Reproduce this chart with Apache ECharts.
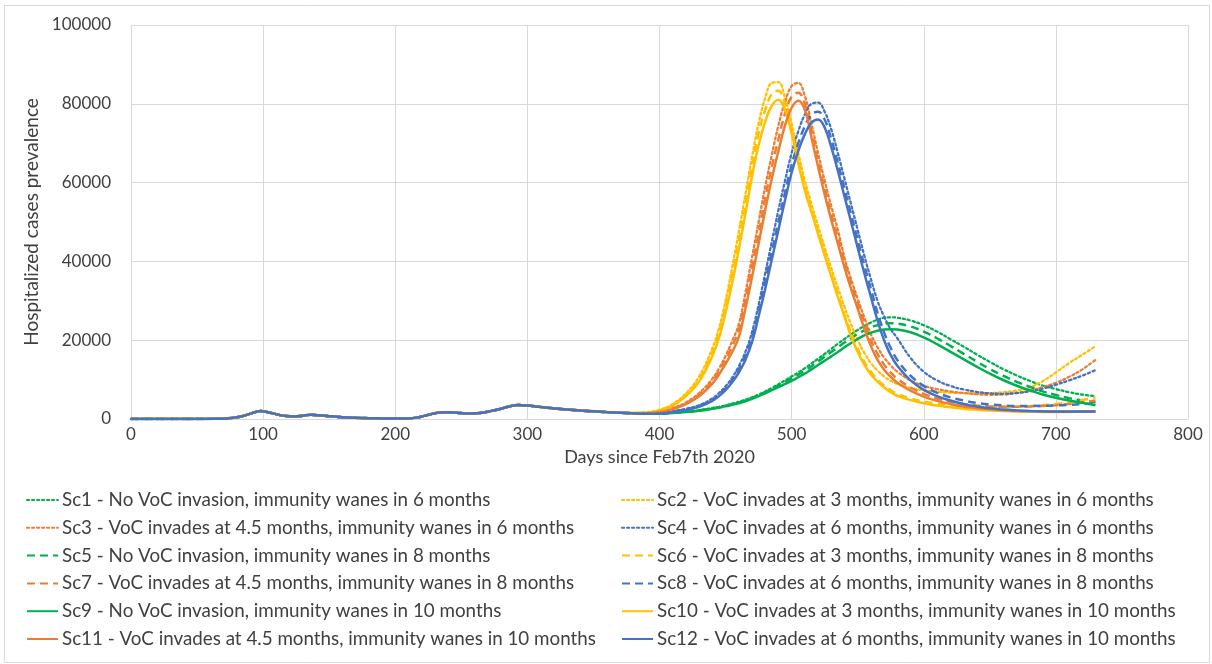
<!DOCTYPE html>
<html>
<head>
<meta charset="utf-8">
<script src="https://cdn.jsdelivr.net/npm/echarts@6/dist/echarts.min.js"></script>
<style>
  html, body { margin: 0; padding: 0; background: #fff; }
  #chart { width: 1212px; height: 664px; }
</style>
</head>
<body>
<div id="chart"></div>
<script>
// Shared early epidemic history (days 0-370), identical for every scenario
const commonDays = [0, 20, 40, 55, 65, 72, 78, 84, 90, 95, 98, 102, 107, 112, 118, 124, 130, 136, 142, 150,
  160, 170, 180, 190, 200, 210, 216, 222, 228, 234, 240, 248, 256, 264, 272, 280, 287, 293, 300, 310,
  320, 330, 340, 350, 360, 370];
const commonValues = [0, 0, 0, 20, 60, 150, 350, 700, 1300, 1850, 2000, 1850, 1450, 1050, 750, 650, 850, 1050, 950, 700,
  450, 300, 200, 150, 120, 150, 350, 800, 1300, 1650, 1700, 1550, 1400, 1550, 2000, 2600, 3250, 3550, 3400, 3050,
  2700, 2400, 2150, 1950, 1750, 1600];

// Scenario projections from day 380 on
const scenarioDays = [380, 390, 400, 410, 420, 430, 440, 445, 450, 455, 460, 465, 470, 475, 480, 485, 490, 495, 500, 505,
  510, 515, 520, 525, 530, 535, 540, 545, 550, 555, 560, 565, 570, 575, 580, 590, 600, 610, 620, 630,
  640, 650, 660, 670, 680, 690, 700, 710, 720, 730];

const sc1 = [1450, 1400, 1450, 1600, 1850, 2250, 2800, 3100, 3450, 3900, 4350, 4900, 5500, 6200, 7000, 7900, 8800, 9800, 10800, 11800,
  12900, 14100, 15300, 16500, 17800, 19100, 20300, 21500, 22600, 23600, 24500, 25200, 25700, 25800, 25700, 25000, 23800, 22200, 20300, 18400,
  16400, 14500, 12700, 11100, 9700, 8500, 7600, 6800, 6200, 5800];
const sc2 = [1550, 1700, 2300, 3800, 6500, 10800, 18000, 23000, 30000, 38500, 47500, 57000, 66500, 75000, 81500, 85300, 85500, 81500, 75000, 67500,
  60500, 54500, 49000, 43500, 38300, 33300, 28500, 24000, 20000, 16800, 14200, 12300, 10800, 9700, 8900, 7900, 7300, 6900, 6700, 6550,
  6500, 6550, 6800, 7200, 8000, 9600, 11800, 14200, 16300, 18500];
const sc3 = [1500, 1550, 1950, 2800, 4200, 6600, 10200, 12800, 16000, 19800, 24000, 32000, 41000, 50000, 59000, 67000, 74500, 80500, 84500, 85300,
  82000, 75000, 67500, 60500, 54000, 48000, 41000, 35500, 30500, 25800, 21500, 18200, 15600, 13600, 12000, 9800, 8400, 7600, 7000, 6600,
  6300, 6150, 6200, 6600, 7200, 8100, 9200, 10700, 12600, 15000];
const sc4 = [1500, 1450, 1500, 1950, 2600, 3500, 5200, 6600, 8300, 10500, 13400, 17000, 22000, 29000, 37000, 45000, 53000, 60500, 67500, 73000,
  77300, 80000, 80300, 78000, 73500, 67500, 61000, 54500, 48000, 41500, 35500, 30000, 26000, 22800, 20500, 15500, 12000, 9800, 8400, 7500,
  6900, 6500, 6400, 6600, 7000, 7700, 8700, 9800, 11000, 12400];
const sc5 = [1450, 1400, 1400, 1550, 1800, 2200, 2700, 3000, 3350, 3750, 4200, 4700, 5300, 6000, 6800, 7600, 8500, 9400, 10300, 11300,
  12300, 13400, 14600, 15800, 17000, 18200, 19400, 20500, 21600, 22500, 23300, 23800, 24200, 24300, 24200, 23500, 22200, 20500, 18600, 16600,
  14600, 12700, 11000, 9500, 8200, 7000, 6100, 5300, 4700, 4200];
const sc6 = [1500, 1650, 2200, 3600, 6100, 10000, 17000, 21800, 28500, 36500, 45000, 54500, 64000, 72500, 78500, 82500, 83300, 80000, 73500, 66000,
  59000, 53000, 47500, 42000, 36700, 31500, 26500, 21800, 17800, 14500, 12000, 10000, 8500, 7300, 6400, 5200, 4400, 3900, 3500, 3250,
  3100, 3050, 3050, 3100, 3250, 3500, 3800, 4200, 4800, 5500];
const sc7 = [1450, 1500, 1850, 2650, 4000, 6200, 9600, 12000, 15000, 18500, 22500, 30000, 38500, 47000, 56000, 64000, 71000, 77500, 81800, 82800,
  80000, 73000, 65500, 58500, 52000, 46000, 40000, 34500, 29500, 24500, 20000, 16500, 13800, 11800, 10200, 8000, 6400, 5200, 4400, 3800,
  3400, 3200, 3100, 3100, 3150, 3300, 3500, 3800, 4200, 4700];
const sc8 = [1450, 1400, 1450, 1850, 2450, 3300, 4900, 6200, 7800, 9900, 12600, 16000, 20800, 27500, 35000, 42500, 50000, 57500, 64500, 70000,
  74300, 77300, 78000, 76000, 71000, 65000, 58500, 52000, 45500, 39000, 33000, 27000, 22000, 18000, 15000, 11000, 8400, 6700, 5500, 4700,
  4100, 3700, 3450, 3300, 3300, 3350, 3450, 3600, 3800, 4000];
const sc9 = [1450, 1350, 1350, 1500, 1750, 2100, 2600, 2900, 3200, 3600, 4000, 4500, 5100, 5800, 6500, 7300, 8100, 8900, 9700, 10600,
  11500, 12600, 13700, 14800, 15900, 17000, 18200, 19300, 20300, 21200, 21900, 22400, 22700, 22800, 22700, 22000, 20700, 19000, 17100, 15200,
  13300, 11500, 9900, 8500, 7300, 6200, 5400, 4700, 4100, 3500];
const sc10 = [1500, 1600, 2100, 3400, 5800, 9500, 16000, 20500, 27000, 34500, 43000, 52000, 61500, 69500, 75500, 79500, 81000, 78500, 72500, 65000,
  58000, 52500, 47000, 41500, 36200, 31000, 26000, 21000, 17000, 13800, 11300, 9500, 8000, 6800, 5900, 4800, 4000, 3400, 3000, 2600,
  2350, 2150, 2000, 1900, 1850, 1800, 1780, 1800, 1850, 1900];
const sc11 = [1450, 1450, 1750, 2500, 3800, 5800, 9000, 11300, 14000, 17000, 20800, 28000, 36000, 44500, 53000, 61000, 68000, 74500, 79000, 80800,
  78500, 71500, 64000, 57000, 50500, 44500, 38500, 33000, 28000, 23000, 18500, 15000, 12500, 10700, 9200, 7200, 5700, 4600, 3800, 3200,
  2800, 2500, 2250, 2100, 2000, 1900, 1850, 1850, 1850, 1900];
const sc12 = [1450, 1350, 1400, 1750, 2300, 3100, 4600, 5800, 7300, 9300, 11800, 15000, 19500, 26000, 33000, 40500, 48000, 55500, 62500, 68000,
  72300, 75200, 76000, 74000, 69000, 63000, 56500, 50000, 43500, 37000, 31000, 25000, 20000, 16200, 13500, 9800, 7400, 5800, 4700, 3800,
  3200, 2700, 2400, 2200, 2050, 1950, 1900, 1880, 1880, 1900];

const scenarioNames = [
  'Sc1 - No VoC invasion, immunity wanes in 6 months',
  'Sc2 - VoC invades at 3 months, immunity wanes in 6 months',
  'Sc3 - VoC invades at 4.5 months, immunity wanes in 6 months',
  'Sc4 - VoC invades at 6 months, immunity wanes in 6 months',
  'Sc5 - No VoC invasion, immunity wanes in 8 months',
  'Sc6 - VoC invades at 3 months, immunity wanes in 8 months',
  'Sc7 - VoC invades at 4.5 months, immunity wanes in 8 months',
  'Sc8 - VoC invades at 6 months, immunity wanes in 8 months',
  'Sc9 - No VoC invasion, immunity wanes in 10 months',
  'Sc10 - VoC invades at 3 months, immunity wanes in 10 months',
  'Sc11 - VoC invades at 4.5 months, immunity wanes in 10 months',
  'Sc12 - VoC invades at 6 months, immunity wanes in 10 months'
];
const scenarioValues = [sc1, sc2, sc3, sc4, sc5, sc6, sc7, sc8, sc9, sc10, sc11, sc12];

const xTicks = { min: 0, max: 800, interval: 100 };
const yTicks = { min: 0, max: 100000, interval: 20000 };

// Colour by VoC timing, dash style by waning period
const palette = ['#00B050', '#FFC000', '#ED7D31', '#4472C4'];
const dashByWaning = [[2.2, 2.8], [8, 5], 'solid'];
const widthByWaning = [2.3, 2.5, 2.5];

const FONT = 'Lato, "Open Sans", sans-serif';
const TEXT = '#404040';

function buildData(vals) {
  const pts = commonDays.map((d, i) => [d, commonValues[i]]);
  scenarioDays.forEach((d, i) => pts.push([d, vals[i]]));
  return pts;
}

const series = scenarioNames.map((name, i) => ({
  name: name,
  type: 'line',
  smooth: 0.4,
  symbol: 'none',
  showSymbol: false,
  data: buildData(scenarioValues[i]),
  color: palette[i % 4],
  lineStyle: {
    color: palette[i % 4],
    width: widthByWaning[Math.floor(i / 4)],
    type: dashByWaning[Math.floor(i / 4)],
    cap: Math.floor(i / 4) === 0 ? 'round' : 'butt'
  },
  emphasis: { disabled: true }
}));

const legendCommon = {
  orient: 'vertical',
  itemHeight: 2,
  itemGap: 7.8,
  itemStyle: { opacity: 0 },
  textStyle: { fontFamily: FONT, fontSize: 18.8, color: TEXT, lineHeight: 20, padding: [0, 0, 0, -1] },
  selectedMode: false
};

const chart = echarts.init(document.getElementById('chart'), null, { renderer: 'canvas' });
chart.setOption({
  animation: false,
  backgroundColor: '#ffffff',
  graphic: [{
    type: 'rect',
    shape: { x: 4.5, y: 5.5, width: 1205, height: 657 },
    style: { fill: 'none', stroke: '#d9d9d9', lineWidth: 1 },
    silent: true
  }],
  grid: { left: 131, right: 24, top: 25, bottom: 245, containLabel: false },
  xAxis: {
    type: 'value',
    min: xTicks.min, max: xTicks.max, interval: xTicks.interval,
    name: 'Days since Feb7th 2020',
    nameLocation: 'middle',
    nameGap: 19,
    nameTextStyle: { fontFamily: FONT, fontSize: 18, color: TEXT },
    axisLine: { show: false },
    axisTick: { show: false },
    axisLabel: { fontFamily: FONT, fontSize: 17, color: TEXT, margin: 7 },
    splitLine: { show: true, lineStyle: { color: '#d9d9d9', width: 1 } }
  },
  yAxis: {
    type: 'value',
    min: yTicks.min, max: yTicks.max, interval: yTicks.interval,
    name: 'Hospitalized cases prevalence',
    nameLocation: 'middle',
    nameGap: 84,
    nameRotate: 90,
    nameTextStyle: { fontFamily: FONT, fontSize: 19, color: TEXT },
    axisLine: { show: false },
    axisTick: { show: false },
    axisLabel: { fontFamily: FONT, fontSize: 17, color: TEXT, margin: 20, formatter: v => String(v) },
    splitLine: { show: true, lineStyle: { color: '#d9d9d9', width: 1 } }
  },
  legend: [
    Object.assign({}, legendCommon, {
      left: 21, top: 485, itemWidth: 31,
      data: scenarioNames.filter((_, i) => i % 2 === 0)
    }),
    Object.assign({}, legendCommon, {
      left: 616, top: 485, itemWidth: 31,
      data: scenarioNames.filter((_, i) => i % 2 === 1)
    })
  ],
  series: series
});
</script>
</body>
</html>
